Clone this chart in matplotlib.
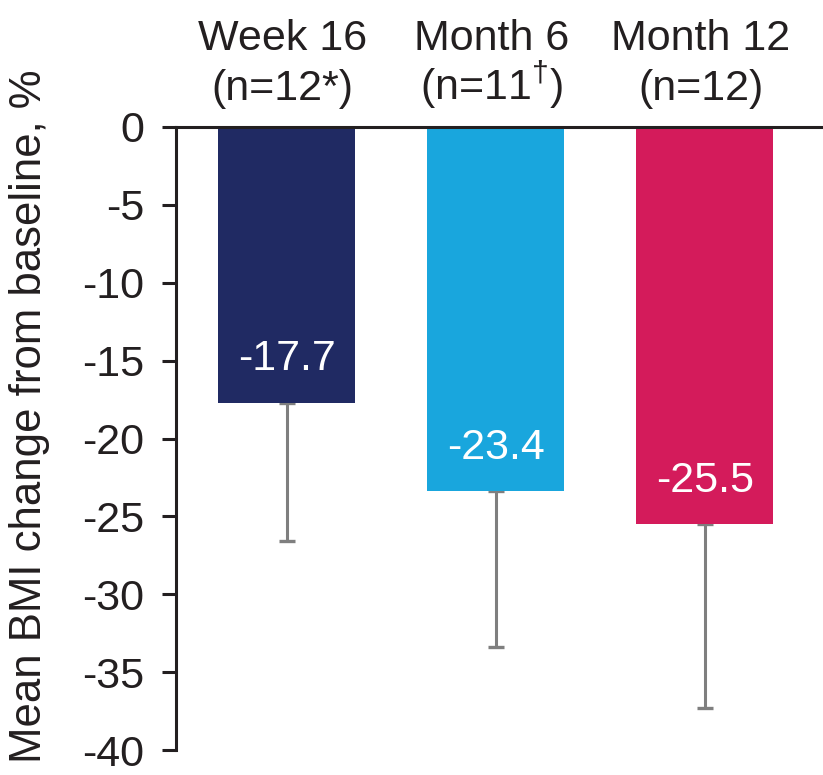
"""
Mean BMI change from baseline by visit, bar chart with SD whiskers.
"""
import matplotlib
matplotlib.use('Agg')
import matplotlib.pyplot as plt
import matplotlib.transforms as mtransforms

plt.rcParams['font.family'] = ['Liberation Sans', 'DejaVu Sans']
plt.rcParams['mathtext.fontset'] = 'custom'
plt.rcParams['mathtext.rm'] = 'Liberation Sans'
plt.rcParams['axes.unicode_minus'] = False

TEXT = "#231F20"
AXIS = "#231F20"

visit_names = ["Week 16", "Month 6", "Month 12"]
visit_counts = ["(n=12*)", "(n=11$^{\\dagger}$)", "(n=12)"]
mean_change = [-17.7, -23.4, -25.5]
sd_change = [8.9, 10.0, 11.8]
bar_colors = ["#202A63", "#19A6DD", "#D41B5B"]

fig = plt.figure(figsize=(8.23, 7.75), dpi=100)
ax = fig.add_axes([176 / 823, 25 / 775, 647 / 823, 623 / 775])

x = list(range(len(visit_names)))
ax.bar(x, mean_change, width=0.655, color=bar_colors, zorder=2)
ax.errorbar(x, mean_change, yerr=[sd_change, [0] * len(sd_change)],
            fmt='none', ecolor='#7F7F7F', elinewidth=2.2,
            capsize=5.8, capthick=2.4, zorder=1)

# value labels sit inside the bars, just above the bar end
for xi, v in zip(x, mean_change):
    ax.text(xi, v + 2.8, f"{v:.1f}", ha='center', va='center',
            color='white', fontsize=31, zorder=3)

# visit names above the zero line, two lines drawn on fixed baselines
trans = mtransforms.blended_transform_factory(ax.transData, ax.transAxes)
for xi, name, count in zip(x, visit_names, visit_counts):
    ax.text(xi - 0.02, 1 + 77 / 623, name, transform=trans, ha='center',
            va='baseline', fontsize=31, color=TEXT)
    ax.text(xi - 0.02, 1 + 27 / 623, count, transform=trans, ha='center',
            va='baseline', fontsize=31, color=TEXT)

ax.set_xlim(-0.53, 2.565)
ax.set_ylim(-40, 0)
ax.set_yticks(range(0, -45, -5))
ax.set_xticks([])

for side in ('right', 'bottom'):
    ax.spines[side].set_visible(False)
for side in ('left', 'top'):
    ax.spines[side].set_linewidth(2.2)
    ax.spines[side].set_color(AXIS)

ax.tick_params(axis='y', direction='out', length=10, width=2.2,
               color=AXIS, labelsize=31, labelcolor=TEXT, pad=13)

fig.text(30 / 823, 1 - 416 / 775, "Mean BMI change from baseline, %",
         rotation=90, ha='center', va='center', fontsize=31.5, color=TEXT)

fig.savefig("out.png", dpi=100, facecolor='white')
plt.close(fig)
